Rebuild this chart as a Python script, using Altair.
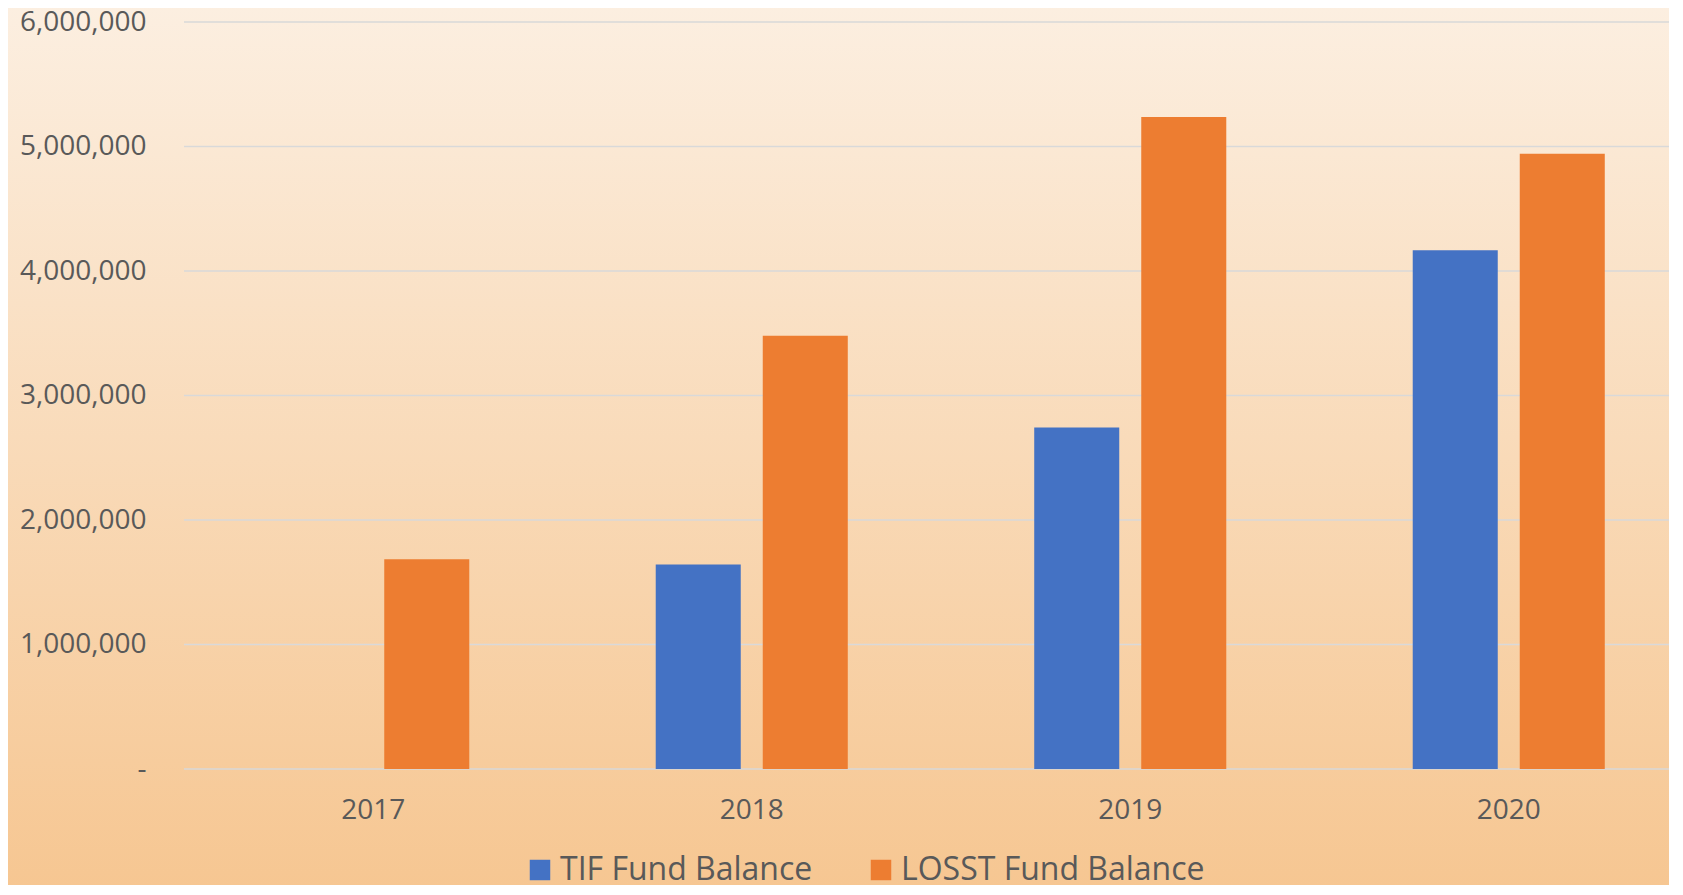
import altair as alt
import pandas as pd

years = ["2017", "2018", "2019", "2020"]
series = ["TIF Fund Balance", "LOSST Fund Balance"]
tif_values = [None, 1642000, 2743000, 4167000]
losst_values = [1684000, 3480000, 5237000, 4942000]
y_ticks = [0, 1000000, 2000000, 3000000, 4000000, 5000000, 6000000]
colors = ["#4472C4", "#ED7D31"]

rows = []
for yr, t, l in zip(years, tif_values, losst_values):
    if t is not None:
        rows.append({"year": yr, "series": series[0], "value": t})
    if l is not None:
        rows.append({"year": yr, "series": series[1], "value": l})
df = pd.DataFrame(rows)
grid_df = pd.DataFrame({"value": y_ticks})
bg_df = pd.DataFrame({"k": [0]})

W = 1485
H = 747
TXT = "#595959"
FONT = "Open Sans"

y_scale = alt.Scale(domain=[0, 6000000], nice=False)
y_axis = alt.Axis(
    values=y_ticks, title=None, grid=False, ticks=False, domain=False,
    labelExpr="datum.value == 0 ? '-' : format(datum.value, ',')",
    labelFontSize=28, labelColor=TXT, labelFont=FONT, labelPadding=38, zindex=1,
)

grad = alt.Gradient(
    gradient="linear",
    stops=[alt.GradientStop(color="#FCEFE1", offset=0),
           alt.GradientStop(color="#F6C691", offset=1)],
    x1=0, x2=0, y1=0, y2=1,
)

background = alt.Chart(bg_df).mark_rect(fill=grad).encode(
    x=alt.value(-184), x2=alt.value(1683 - 184),
    y=alt.value(-22), y2=alt.value(895 - 22),
)

grid = alt.Chart(grid_df).mark_rule(color="#D9D9D9", strokeWidth=1.5).encode(
    y=alt.Y("value:Q", scale=y_scale, axis=y_axis),
    x=alt.value(0), x2=alt.value(1683 - 184),
)

bars = alt.Chart(df).mark_bar().encode(
    x=alt.X("year:N", sort=years, title=None,
            scale=alt.Scale(range=[0, 1514], paddingInner=0, paddingOuter=0),
            axis=alt.Axis(labelAngle=0, ticks=False, domain=False, grid=False,
                          labelFontSize=28, labelColor=TXT, labelFont=FONT,
                          labelPadding=27, zindex=1)),
    xOffset=alt.XOffset("series:N", sort=series,
                        scale=alt.Scale(domain=series, paddingInner=0.2056, paddingOuter=0.871)),
    y=alt.Y("value:Q", scale=y_scale, axis=y_axis),
    color=alt.Color("series:N", sort=series,
                    scale=alt.Scale(domain=series, range=colors),
                    legend=alt.Legend(title=None, orient="none", direction="horizontal",
                                      legendX=340, legendY=832, symbolType="square",
                                      symbolSize=420, symbolStrokeWidth=0,
                                      labelFontSize=32, labelColor=TXT, labelFont=FONT,
                                      labelLimit=0, labelOffset=4, columnPadding=52,
                                      padding=0, zindex=1)),
)

chart = alt.layer(background, grid, bars).properties(
    width=W, height=H,
    autosize=alt.AutoSizeParams(type="none"),
    padding={"left": 176, "top": 14, "right": 0, "bottom": 116},
).configure_view(stroke=None)

chart.save("out.html", embed_options={"renderer": "svg", "actions": False})
